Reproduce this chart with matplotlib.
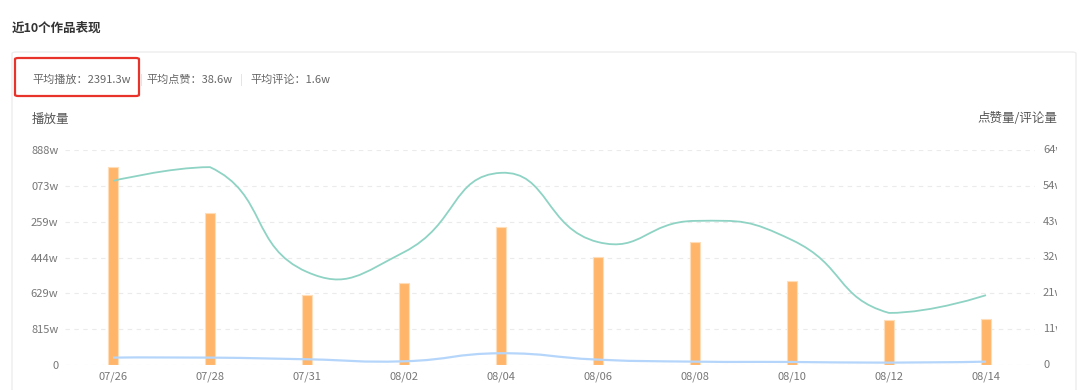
import numpy as np
import matplotlib
matplotlib.use("Agg")
import matplotlib.pyplot as plt
from matplotlib.path import Path
from matplotlib.patches import PathPatch, FancyBboxPatch
from matplotlib.transforms import Bbox, blended_transform_factory

plt.rcParams['font.family'] = ['Noto Sans CJK SC', 'DejaVu Sans']

# data
dates = ["07/26", "07/28", "07/31", "08/02", "08/04", "08/06", "08/08", "08/10", "08/12", "08/14"]
plays = [4501, 3456, 1591, 1864, 3137, 2455, 2796, 1910, 1023, 1046]       # 播放量 (w)
likes = [54.8, 58.9, 27.7, 33.6, 57.2, 36.6, 42.9, 37.2, 15.5, 20.8]     # 点赞量 (w)
comments = [2.2, 2.2, 1.7, 1.1, 3.5, 1.6, 1.0, 0.9, 0.7, 1.0]            # 评论量 (w)

play_ticks = [0, 815, 1629, 2444, 3259, 4073, 4888]
play_labels = ["0", "815w", "629w", "444w", "259w", "073w", "888w"]
like_ticks = [0, 64 / 6, 128 / 6, 32, 256 / 6, 320 / 6, 64]
like_labels = ["0", "11w", "21w", "32w", "43w", "54w", "64w"]

W, H = 1080, 390


def fx(px):
    return px / W


def fy(py):
    return 1 - py / H


def smooth_path(ax, xs, ys, smooth=0.5):
    # echarts-style smoothed line, control points clamped to the points' bbox
    pts = ax.transData.transform(np.column_stack([xs, ys]).astype(float))
    lo, hi = pts.min(axis=0), pts.max(axis=0)
    verts = [pts[0]]
    codes = [Path.MOVETO]
    cp0 = pts[0].copy()
    n = len(pts)
    for i in range(1, n):
        p, prev = pts[i], pts[i - 1]
        if i + 1 < n:
            nxt = pts[i + 1]
            v = nxt - prev
            l0 = np.hypot(*(p - prev))
            l1 = np.hypot(*(p - nxt))
            r = l1 / (l0 + l1)
            cp1 = p - v * smooth * (1 - r)
        else:
            v = None
            cp1 = p.copy()
        verts += [np.clip(cp0, lo, hi), np.clip(cp1, lo, hi), p]
        codes += [Path.CURVE4] * 3
        if v is not None:
            cp0 = p + v * smooth * r
    data = ax.transData.inverted().transform(np.array(verts))
    return Path(data, codes)


fig = plt.figure(figsize=(W / 100, H / 100), dpi=100)
fig.patch.set_facecolor("white")

# card panel + red highlight box
fig.patches.append(FancyBboxPatch((fx(12), fy(400)), fx(1076) - fx(12), fy(52) - fy(400),
                                  boxstyle="round,pad=0,rounding_size=0.004",
                                  transform=fig.transFigure, facecolor="none",
                                  edgecolor="#EDEDED", linewidth=1.0, zorder=-1))
fig.patches.append(FancyBboxPatch((fx(15), fy(96)), fx(139) - fx(15), fy(58) - fy(96),
                                  boxstyle="round,pad=0,rounding_size=0.003",
                                  transform=fig.transFigure, facecolor="none",
                                  edgecolor="#E8332B", linewidth=1.6))

fig.text(fx(12), fy(28), "近10个作品表现", fontsize=9, fontweight="bold", color="#333333",
         va="center", ha="left")
fig.text(fx(32), fy(80), "平均播放：2391.3w", fontsize=8, color="#666666", va="center")
fig.text(fx(140), fy(80), "|", fontsize=8, color="#DDDDDD", va="center")
fig.text(fx(146), fy(80), "平均点赞：38.6w", fontsize=8, color="#666666", va="center")
fig.text(fx(240), fy(80), "|", fontsize=8, color="#DDDDDD", va="center")
fig.text(fx(250), fy(80), "平均评论：1.6w", fontsize=8, color="#666666", va="center")
fig.text(fx(32), fy(119), "播放量", fontsize=9, color="#555555", va="center")
fig.text(fx(1057), fy(119), "点赞量/评论量", fontsize=9, color="#555555", va="center", ha="right")

ax = fig.add_axes([fx(64.5), fy(365), 970 / W, 215 / H])
ax.patch.set_alpha(0)
ax2 = ax.twinx()
ax2.patch.set_alpha(0)

x = np.arange(len(dates))
ax.bar(x, plays, width=0.1, color="#FFB66B", edgecolor="#FFDDB8", linewidth=0.8, zorder=2)

ax.set_xlim(-0.5, len(dates) - 0.5)
ax.set_ylim(0, play_ticks[-1])
ax2.set_ylim(0, like_ticks[-1])

ax.set_yticks(play_ticks)
ax.set_yticklabels(play_labels)
ax.set_xticks(x)
ax.set_xticklabels(dates)
ax.yaxis.grid(True, linestyle=(0, (4, 4)), color="#EBEBEB", linewidth=0.8)
ax.set_axisbelow(True)
ax.tick_params(axis="both", length=0, labelsize=8, labelcolor="#777777")
ax.tick_params(axis="y", pad=4.5)
ax.tick_params(axis="x", pad=5)
for a in (ax, ax2):
    for s in a.spines.values():
        s.set_visible(False)
ax2.yaxis.set_visible(False)

# right axis labels, clipped at the card edge like the reference
trans = blended_transform_factory(fig.transFigure, ax2.transData)
clip = Bbox.from_extents(0, 0, 1057, H)
for v, lab in zip(like_ticks, like_labels):
    t = fig.text(fx(1043), v, lab, transform=trans, fontsize=8, color="#777777",
                 va="center", ha="left")
    t.set_clip_on(True)
    t.set_clip_box(clip)

ax2.add_patch(PathPatch(smooth_path(ax2, x, likes), fill=False, edgecolor="#8ED3C4",
                        linewidth=1.3, zorder=3))
ax2.add_patch(PathPatch(smooth_path(ax2, x, comments), fill=False, edgecolor="#B5D6FA",
                        linewidth=1.6, zorder=3))

fig.savefig("out.png", dpi=100)
